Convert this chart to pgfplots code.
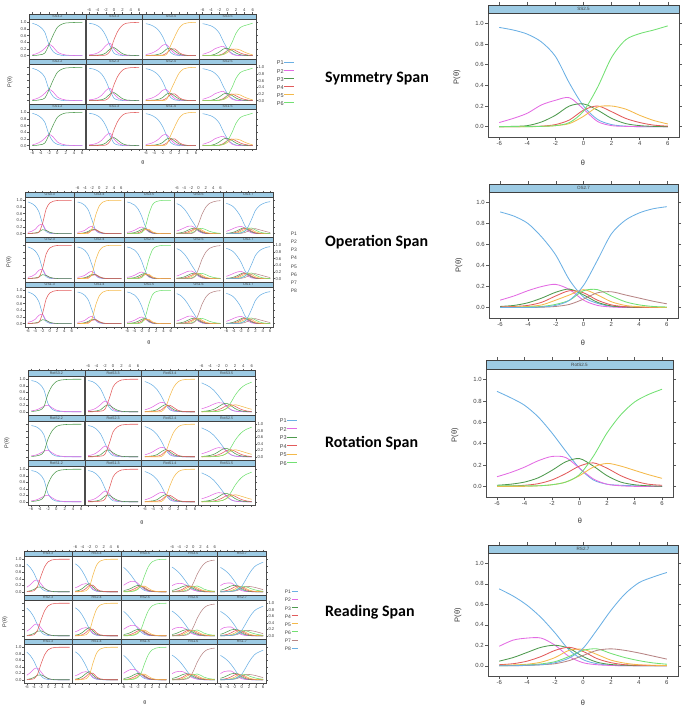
\documentclass[border=0pt]{standalone}
\usepackage{pgfplots}
\pgfplotsset{compat=1.18}
\usepackage{pgfplotstable}
\usepackage{fontspec}
\setmainfont{Liberation Sans}
\newfontfamily\titlefont{Carlito}

\definecolor{c1}{HTML}{6BB0E4}
\definecolor{c2}{HTML}{E36BE3}
\definecolor{c3}{HTML}{4E9A4E}
\definecolor{c4}{HTML}{E25B5B}
\definecolor{c5}{HTML}{F4B94A}
\definecolor{c6}{HTML}{72E072}
\definecolor{c7}{HTML}{B78585}
\colorlet{c8}{c1}
\definecolor{stripc}{HTML}{9DCBE4}

% ---------------- data (theta = -6..6) ----------------
\pgfplotstableread{
t p1 p2 p3
-6 0.97 0.025 0.005
-5 0.93 0.06 0.01
-4 0.85 0.12 0.03
-3 0.70 0.22 0.08
-2 0.33 0.34 0.33
-1 0.12 0.26 0.62
0 0.04 0.11 0.85
1 0.01 0.05 0.94
2 0 0.02 0.98
3 0 0.01 0.99
4 0 0.005 0.995
5 0 0 1
6 0 0 1
}\ssA
\pgfplotstableread{
t p1 p2 p3 p4
-6 0.97 0.025 0.005 0
-5 0.95 0.04 0.01 0
-4 0.90 0.08 0.015 0.005
-3 0.80 0.16 0.03 0.01
-2 0.60 0.30 0.08 0.02
-1 0.30 0.37 0.20 0.13
0 0.07 0.20 0.24 0.49
1 0.02 0.07 0.15 0.76
2 0.005 0.02 0.06 0.915
3 0 0.005 0.02 0.975
4 0 0 0.01 0.99
5 0 0 0.005 0.995
6 0 0 0 1
}\ssB
\pgfplotstableread{
t p1 p2 p3 p4 p5
-6 0.96 0.035 0.005 0 0
-5 0.93 0.06 0.01 0 0
-4 0.87 0.11 0.015 0.005 0
-3 0.77 0.19 0.04 0.01 0
-2 0.58 0.31 0.09 0.015 0.005
-1 0.30 0.33 0.20 0.08 0.04
0 0.09 0.18 0.22 0.19 0.32
1 0.02 0.06 0.13 0.20 0.59
2 0.005 0.02 0.05 0.09 0.83
3 0 0.005 0.015 0.03 0.95
4 0 0 0.005 0.01 0.985
5 0 0 0 0.003 0.997
6 0 0 0 0 1
}\ssC
\pgfplotstableread{
t p1 p2 p3 p4 p5 p6
-6 0.96 0.04 0 0 0 0
-5 0.935 0.08 0.003 0 0 0
-4 0.895 0.13 0.01 0.002 0 0
-3 0.82 0.21 0.045 0.005 0.002 0.003
-2 0.68 0.255 0.11 0.02 0.01 0.01
-1 0.42 0.28 0.20 0.065 0.03 0.04
0 0.20 0.17 0.22 0.16 0.10 0.15
1 0.07 0.05 0.16 0.20 0.19 0.38
2 0.02 0.01 0.08 0.145 0.20 0.67
3 0.005 0.003 0.03 0.08 0.17 0.84
4 0 0 0.01 0.04 0.11 0.90
5 0 0 0.003 0.015 0.06 0.935
6 0 0 0 0.005 0.026 0.975
}\ssD
\pgfplotstableread{
t p1 p2 p3 p4
-6 0.95 0.04 0.005 0.005
-5 0.91 0.07 0.01 0.01
-4 0.83 0.13 0.02 0.02
-3 0.66 0.25 0.05 0.04
-2 0.30 0.28 0.12 0.30
-1 0.06 0.10 0.10 0.74
0 0.01 0.03 0.04 0.92
1 0 0.01 0.015 0.975
2 0 0 0.005 0.995
3 0 0 0 1
4 0 0 0 1
5 0 0 0 1
6 0 0 0 1
}\osA
\pgfplotstableread{
t p1 p2 p3 p4 p5
-6 0.95 0.04 0.005 0.005 0
-5 0.92 0.06 0.01 0.005 0.005
-4 0.85 0.10 0.03 0.015 0.005
-3 0.70 0.18 0.07 0.04 0.01
-2 0.40 0.22 0.13 0.10 0.15
-1 0.10 0.10 0.12 0.12 0.56
0 0.02 0.03 0.05 0.06 0.84
1 0.005 0.01 0.015 0.02 0.95
2 0 0 0.005 0.005 0.99
3 0 0 0 0 1
4 0 0 0 0 1
5 0 0 0 0 1
6 0 0 0 0 1
}\osB
\pgfplotstableread{
t p1 p2 p3 p4 p5 p6
-6 0.95 0.04 0.01 0 0 0
-5 0.92 0.06 0.015 0.005 0 0
-4 0.86 0.10 0.03 0.01 0 0
-3 0.74 0.16 0.07 0.025 0.005 0
-2 0.52 0.20 0.13 0.08 0.04 0.03
-1 0.22 0.14 0.15 0.15 0.13 0.21
0 0.05 0.05 0.07 0.10 0.13 0.60
1 0.01 0.015 0.02 0.03 0.05 0.875
2 0 0.005 0.005 0.01 0.015 0.965
3 0 0 0 0.005 0.005 0.99
4 0 0 0 0 0 1
5 0 0 0 0 0 1
6 0 0 0 0 0 1
}\osC
\pgfplotstableread{
t p1 p2 p3 p4 p5 p6 p7
-6 0.90 0.08 0.015 0.005 0 0 0
-5 0.85 0.12 0.025 0.005 0 0 0
-4 0.75 0.17 0.05 0.02 0.005 0 0
-3 0.60 0.22 0.10 0.05 0.02 0.005 0
-2 0.42 0.23 0.15 0.10 0.06 0.02 0.005
-1 0.25 0.17 0.17 0.15 0.13 0.07 0.06
0 0.08 0.07 0.10 0.13 0.16 0.15 0.30
1 0.02 0.02 0.04 0.06 0.10 0.16 0.60
2 0.005 0.005 0.01 0.02 0.04 0.12 0.80
3 0 0 0.003 0.005 0.015 0.07 0.91
4 0 0 0 0 0.005 0.04 0.955
5 0 0 0 0 0 0.02 0.98
6 0 0 0 0 0 0.01 0.99
}\osD
\pgfplotstableread{
t p1 p2 p3 p4 p5 p6 p7 p8
-6 0.91 0.07 0.01 0.005 0 0 0 0
-5 0.87 0.11 0.02 0.01 0.005 0 0 0
-4 0.80 0.16 0.045 0.02 0.01 0.005 0 0
-3 0.67 0.20 0.09 0.05 0.025 0.01 0.003 0.005
-2 0.50 0.22 0.145 0.11 0.07 0.03 0.01 0.02
-1 0.26 0.17 0.175 0.16 0.12 0.07 0.03 0.07
0 0.10 0.07 0.12 0.14 0.17 0.16 0.08 0.21
1 0.04 0.02 0.05 0.07 0.12 0.17 0.14 0.45
2 0.01 0.005 0.015 0.025 0.055 0.11 0.15 0.70
3 0.005 0 0.005 0.008 0.02 0.055 0.12 0.83
4 0 0 0 0.003 0.008 0.025 0.09 0.90
5 0 0 0 0 0.003 0.01 0.06 0.94
6 0 0 0 0 0 0.005 0.035 0.96
}\osE
\pgfplotstableread{
t p1 p2 p3
-6 0.96 0.03 0.01
-5 0.93 0.05 0.02
-4 0.85 0.10 0.05
-3 0.68 0.17 0.15
-2 0.25 0.20 0.55
-1 0.08 0.12 0.80
0 0.02 0.05 0.93
1 0.005 0.02 0.975
2 0 0.008 0.99
3 0 0.003 0.997
4 0 0 1
5 0 0 1
6 0 0 1
}\rtA
\pgfplotstableread{
t p1 p2 p3 p4
-6 0.96 0.035 0.005 0
-5 0.93 0.06 0.01 0
-4 0.85 0.12 0.025 0.005
-3 0.70 0.22 0.06 0.02
-2 0.43 0.33 0.17 0.07
-1 0.15 0.26 0.21 0.38
0 0.03 0.08 0.12 0.77
1 0.01 0.025 0.05 0.915
2 0 0.008 0.015 0.977
3 0 0.003 0.005 0.992
4 0 0 0 1
5 0 0 0 1
6 0 0 0 1
}\rtB
\pgfplotstableread{
t p1 p2 p3 p4 p5
-6 0.93 0.06 0.01 0 0
-5 0.88 0.10 0.015 0.005 0
-4 0.80 0.16 0.03 0.01 0
-3 0.67 0.24 0.07 0.02 0
-2 0.47 0.29 0.16 0.06 0.01
-1 0.22 0.25 0.22 0.17 0.14
0 0.06 0.10 0.15 0.20 0.49
1 0.015 0.03 0.06 0.12 0.775
2 0.005 0.01 0.02 0.04 0.925
3 0 0 0.005 0.015 0.98
4 0 0 0 0.005 0.995
5 0 0 0 0 1
6 0 0 0 0 1
}\rtC
\pgfplotstableread{
t p1 p2 p3 p4 p5 p6
-6 0.89 0.09 0.01 0 0 0.005
-5 0.83 0.13 0.02 0.003 0 0.005
-4 0.76 0.18 0.04 0.01 0 0.005
-3 0.65 0.24 0.08 0.025 0.005 0.005
-2 0.50 0.28 0.15 0.06 0.015 0.015
-1 0.33 0.27 0.23 0.12 0.04 0.04
0 0.17 0.17 0.26 0.19 0.10 0.11
1 0.06 0.07 0.19 0.22 0.18 0.28
2 0.02 0.02 0.10 0.17 0.215 0.50
3 0.01 0.005 0.04 0.10 0.19 0.67
4 0.005 0 0.015 0.05 0.15 0.79
5 0 0 0.005 0.02 0.11 0.86
6 0 0 0 0.01 0.075 0.91
}\rtD
\pgfplotstableread{
t p1 p2 p3 p4
-6 0.85 0.14 0.01 0
-5 0.74 0.22 0.03 0.01
-4 0.57 0.33 0.07 0.03
-3 0.33 0.36 0.14 0.17
-2 0.12 0.24 0.15 0.49
-1 0.03 0.10 0.10 0.77
0 0.008 0.03 0.04 0.922
1 0.002 0.008 0.012 0.978
2 0 0.002 0.004 0.994
3 0 0 0 1
4 0 0 0 1
5 0 0 0 1
6 0 0 0 1
}\rsA
\pgfplotstableread{
t p1 p2 p3 p4 p5
-6 0.86 0.12 0.02 0 0
-5 0.78 0.17 0.04 0.01 0
-4 0.63 0.23 0.10 0.03 0.01
-3 0.43 0.25 0.19 0.10 0.03
-2 0.20 0.20 0.25 0.20 0.15
-1 0.06 0.08 0.14 0.20 0.52
0 0.015 0.025 0.05 0.09 0.82
1 0.004 0.007 0.015 0.03 0.944
2 0 0.002 0.005 0.01 0.983
3 0 0 0 0.003 0.997
4 0 0 0 0 1
5 0 0 0 0 1
6 0 0 0 0 1
}\rsB
\pgfplotstableread{
t p1 p2 p3 p4 p5 p6
-6 0.75 0.20 0.04 0.008 0.002 0
-5 0.65 0.27 0.06 0.015 0.005 0
-4 0.52 0.32 0.10 0.04 0.015 0.005
-3 0.37 0.32 0.16 0.09 0.04 0.02
-2 0.22 0.26 0.20 0.15 0.10 0.07
-1 0.10 0.15 0.17 0.18 0.17 0.23
0 0.035 0.06 0.09 0.12 0.17 0.53
1 0.01 0.02 0.035 0.05 0.10 0.785
2 0.003 0.006 0.012 0.018 0.04 0.92
3 0 0.002 0.004 0.006 0.015 0.973
4 0 0 0 0.002 0.005 0.993
5 0 0 0 0 0.002 0.998
6 0 0 0 0 0 1
}\rsC
\pgfplotstableread{
t p1 p2 p3 p4 p5 p6 p7
-6 0.76 0.19 0.04 0.008 0.002 0 0
-5 0.68 0.24 0.065 0.015 0.005 0.002 0
-4 0.58 0.26 0.11 0.035 0.012 0.005 0
-3 0.45 0.25 0.16 0.08 0.04 0.015 0.005
-2 0.30 0.20 0.19 0.15 0.10 0.045 0.02
-1 0.15 0.10 0.16 0.18 0.16 0.10 0.08
0 0.07 0.05 0.10 0.15 0.17 0.15 0.27
1 0.025 0.02 0.05 0.08 0.13 0.18 0.52
2 0.008 0.007 0.02 0.04 0.07 0.14 0.72
3 0 0 0.008 0.02 0.03 0.08 0.86
4 0 0 0.002 0.008 0.015 0.045 0.93
5 0 0 0 0.004 0.008 0.025 0.96
6 0 0 0 0.002 0.005 0.015 0.975
}\rsD
\pgfplotstableread{
t p1 p2 p3 p4 p5 p6 p7 p8
-6 0.75 0.19 0.045 0.01 0.005 0 0 0
-5 0.68 0.25 0.08 0.02 0.008 0.003 0 0
-4 0.59 0.27 0.13 0.045 0.015 0.008 0.003 0.005
-3 0.47 0.27 0.18 0.09 0.035 0.018 0.01 0.01
-2 0.32 0.20 0.20 0.15 0.08 0.04 0.02 0.03
-1 0.155 0.09 0.17 0.18 0.15 0.09 0.05 0.075
0 0.06 0.03 0.09 0.14 0.16 0.15 0.10 0.17
1 0.02 0.01 0.035 0.07 0.11 0.165 0.15 0.35
2 0.005 0.003 0.012 0.03 0.055 0.12 0.165 0.54
3 0 0 0.005 0.01 0.025 0.08 0.15 0.70
4 0 0 0 0.005 0.01 0.05 0.125 0.81
5 0 0 0 0.002 0.005 0.028 0.095 0.865
6 0 0 0 0 0.002 0.015 0.065 0.91
}\rsE

% ---------------- styles ----------------
\pgfplotsset{
 lat/.style={scale only axis, anchor=north west, width=\pw, height=\ph,
  xmin=-6.8, xmax=6.8, ymin=-0.1, ymax=\ymx,
  xtick={-6,-4,-2,0,2,4,6}, ytick={0,0.2,0.4,0.6,0.8,1},
  tick align=outside, major tick length=1.5bp,
  every tick/.style={black!65, line width=0.4bp},
  axis line style={black!70, line width=0.5bp},
  tick label style={font=\fontsize{4.2}{4.2}\selectfont, text=black!75, inner sep=0.8bp},
  /pgf/number format/assume math mode=true,
  yticklabel style={/pgf/number format/.cd, fixed, fixed zerofill, precision=1},
  every axis plot/.append style={smooth, no markers, line width=0.55bp},
 },
 big/.style={major tick length=3bp, xtick pos=both, xticklabel pos=left,
  ytick pos=both, yticklabel pos=left,
  tick label style={font=\fontsize{6}{6}\selectfont, inner sep=1.2bp},
  every axis plot/.append style={line width=0.85bp}},
 xt/.style={xtick pos=right, xticklabels={}},
 xT/.style={xtick pos=right, xticklabel pos=right},
 xb/.style={xtick pos=left, xticklabels={}},
 xB/.style={xtick pos=left, xticklabel pos=left},
 xn/.style={xmajorticks=false},
 yl/.style={ytick pos=left, yticklabels={}},
 yL/.style={ytick pos=left, yticklabel pos=left},
 yr/.style={ytick pos=right, yticklabels={}},
 yR/.style={ytick pos=right, yticklabel pos=right},
 yn/.style={ymajorticks=false},
 leg/.style={legend plot pos=right, legend cell align=left,
  legend style={draw=none, fill=none, anchor=north west,
   font=\fontsize{5.5}{5.5}\selectfont, text=black!75, inner sep=0pt,
   row sep=2.2bp, column sep=0pt, nodes={inner sep=0.3bp}},
  legend image code/.code={\draw[##1, line width=0.6bp] (6bp,1.9bp) -- (16bp,1.9bp);}},
}
\tikzset{
 stripst/.style={draw=black!75, fill=stripc, line width=0.5bp},
 striptx/.style={font=\stripfont, text=black!75, inner sep=0pt},
 lab/.style={font=\fontsize{5.5}{5.5}\selectfont, text=black!80, inner sep=0pt},
 blab/.style={font=\fontsize{7.5}{7.5}\selectfont, text=black!80, inner sep=0pt},
 ttl/.style={anchor=west, inner sep=0pt, font=\titlefont\bfseries\fontsize{16}{16}\selectfont},
}
\newcommand{\stripfont}{\fontsize{3.6}{3.6}\selectfont}
\newcommand{\pnl}[6]{%
 \begin{axis}[lat, at={(#1bp,-#2bp)}, #6]
  \pgfplotsinvokeforeach{1,...,#4}{\addplot[c##1] table[x=t,y=p##1]{#3};}
 \end{axis}
 \draw[stripst] (#1bp,-#2bp) rectangle ++(\pw,-\sh);
 \path (#1bp,-#2bp) ++(0.5*\pw,-0.5*\sh) node[striptx]{#5};
}

\begin{document}
\begin{tikzpicture}
\useasboundingbox (0,0) rectangle (685bp,-707bp);

% ================= Symmetry Span lattice =================
\renewcommand{\stripfont}{\fontsize{3.6}{3.6}\selectfont}
\def\pw{56.75bp}\def\ph{45bp}\def\sh{5bp}\def\ymx{1.25}
\pnl{29}{14}{\ssA}{3}{SS3.2}{xt,yL}
\pnl{85.75}{14}{\ssB}{4}{SS3.3}{xT,yn}
\pnl{142.5}{14}{\ssC}{5}{SS3.4}{xt,yn}
\pnl{199.25}{14}{\ssD}{6}{SS3.5}{xT,yr}
\pnl{29}{59}{\ssA}{3}{SS2.2}{xn,yl}
\pnl{85.75}{59}{\ssB}{4}{SS2.3}{xn,yn}
\pnl{142.5}{59}{\ssC}{5}{SS2.4}{xn,yn}
\pnl{199.25}{59}{\ssD}{6}{SS2.5}{xn,yR,leg,legend entries={P1,P2,P3,P4,P5,P6},legend style={at={(1.36,0.964)}}}
\pnl{29}{104}{\ssA}{3}{SS1.2}{xB,yL}
\pnl{85.75}{104}{\ssB}{4}{SS1.3}{xb,yn}
\pnl{142.5}{104}{\ssC}{5}{SS1.4}{xB,yn}
\pnl{199.25}{104}{\ssD}{6}{SS1.5}{xb,yr}
\node[lab, rotate=90] at (10bp,-82bp) {P(θ)};
\node[lab] at (143bp,-163bp) {θ};

% ================= Operation Span lattice =================
\def\pw{49.6bp}\def\ph{45bp}\def\sh{5bp}\def\ymx{1.25}
\pnl{25}{192}{\osA}{4}{OS3.3}{xt,yL}
\pnl{74.6}{192}{\osB}{5}{OS3.4}{xT,yn}
\pnl{124.2}{192}{\osC}{6}{OS3.5}{xt,yn}
\pnl{173.8}{192}{\osD}{7}{OS3.6}{xT,yn}
\pnl{223.4}{192}{\osE}{8}{OS3.7}{xt,yr}
\pnl{25}{237}{\osA}{4}{OS2.3}{xn,yl}
\pnl{74.6}{237}{\osB}{5}{OS2.4}{xn,yn}
\pnl{124.2}{237}{\osC}{6}{OS2.5}{xn,yn}
\pnl{173.8}{237}{\osD}{7}{OS2.6}{xn,yn}
\pnl{223.4}{237}{\osE}{8}{OS2.7}{xn,yR,leg,legend plot pos=none,legend entries={P1,P2,P3,P4,P5,P6,P7,P8},legend style={at={(1.35,1.12)},font=\fontsize{5}{5}\selectfont,row sep=2.6bp}}
\pnl{25}{282}{\osA}{4}{OS1.3}{xB,yL}
\pnl{74.6}{282}{\osB}{5}{OS1.4}{xb,yn}
\pnl{124.2}{282}{\osC}{6}{OS1.5}{xB,yn}
\pnl{173.8}{282}{\osD}{7}{OS1.6}{xb,yn}
\pnl{223.4}{282}{\osE}{8}{OS1.7}{xB,yr}
\node[lab, rotate=90] at (9bp,-262bp) {P(θ)};
\node[lab] at (149bp,-343bp) {θ};

% ================= Rotation Span lattice =================
\def\pw{56.75bp}\def\ph{45bp}\def\sh{6bp}\def\ymx{1.285}
\pnl{28}{370}{\rtA}{3}{RotS3.2}{xt,yL}
\pnl{84.75}{370}{\rtB}{4}{RotS3.3}{xT,yn}
\pnl{141.5}{370}{\rtC}{5}{RotS3.4}{xt,yn}
\pnl{198.25}{370}{\rtD}{6}{RotS3.5}{xT,yr}
\pnl{28}{415}{\rtA}{3}{RotS2.2}{xn,yl}
\pnl{84.75}{415}{\rtB}{4}{RotS2.3}{xn,yn}
\pnl{141.5}{415}{\rtC}{5}{RotS2.4}{xn,yn}
\pnl{198.25}{415}{\rtD}{6}{RotS2.5}{xn,yR,leg,legend entries={P1,P2,P3,P4,P5,P6},legend style={at={(1.43,0.92)},row sep=2.6bp}}
\pnl{28}{460}{\rtA}{3}{RotS1.2}{xB,yL}
\pnl{84.75}{460}{\rtB}{4}{RotS1.3}{xb,yn}
\pnl{141.5}{460}{\rtC}{5}{RotS1.4}{xB,yn}
\pnl{198.25}{460}{\rtD}{6}{RotS1.5}{xb,yr}
\node[lab, rotate=90] at (7bp,-443bp) {P(θ)};
\node[lab] at (142bp,-523bp) {θ};

% ================= Reading Span lattice =================
\def\pw{48.4bp}\def\ph{44bp}\def\sh{5bp}\def\ymx{1.254}
\pnl{24}{551}{\rsA}{4}{RS3.3}{xt,yL}
\pnl{72.4}{551}{\rsB}{5}{RS3.4}{xT,yn}
\pnl{120.8}{551}{\rsC}{6}{RS3.5}{xt,yn}
\pnl{169.2}{551}{\rsD}{7}{RS3.6}{xT,yn}
\pnl{217.6}{551}{\rsE}{8}{RS3.7}{xt,yr}
\pnl{24}{595}{\rsA}{4}{RS2.3}{xn,yl}
\pnl{72.4}{595}{\rsB}{5}{RS2.4}{xn,yn}
\pnl{120.8}{595}{\rsC}{6}{RS2.5}{xn,yn}
\pnl{169.2}{595}{\rsD}{7}{RS2.6}{xn,yn}
\pnl{217.6}{595}{\rsE}{8}{RS2.7}{xn,yR,leg,legend entries={P1,P2,P3,P4,P5,P6,P7,P8},legend style={at={(1.38,1.12)},font=\fontsize{5}{5}\selectfont,row sep=2.6bp},legend image code/.code={\draw[#1, line width=0.6bp] (5bp,1.7bp) -- (11bp,1.7bp);}}
\pnl{24}{639}{\rsA}{4}{RS1.3}{xB,yL}
\pnl{72.4}{639}{\rsB}{5}{RS1.4}{xb,yn}
\pnl{120.8}{639}{\rsC}{6}{RS1.5}{xB,yn}
\pnl{169.2}{639}{\rsD}{7}{RS1.6}{xb,yn}
\pnl{217.6}{639}{\rsE}{8}{RS1.7}{xB,yr}
\node[lab, rotate=90] at (5bp,-622bp) {P(θ)};
\node[lab] at (145bp,-703bp) {θ};

% ================= Titles =================
\node[ttl] at (325bp,-79bp) {Symmetry Span};
\node[ttl] at (325bp,-242.5bp) {Operation Span};
\node[ttl] at (325bp,-443bp) {Rotation Span};
\node[ttl] at (325bp,-612.5bp) {Reading Span};

% ================= Big panels =================
\renewcommand{\stripfont}{\fontsize{4.6}{4.6}\selectfont}
\def\pw{191bp}\def\ph{132bp}\def\sh{8bp}\def\ymx{1.177}
\pnl{488}{5}{\ssD}{6}{SS2.5}{big}
\node[blab, rotate=90] at (457bp,-77bp) {P(θ)};
\node[blab] at (583bp,-163bp) {θ};

\def\pw{189bp}\def\ph{134bp}\def\sh{8bp}\def\ymx{1.176}
\pnl{489}{184}{\osE}{8}{OS2.7}{big}
\node[blab, rotate=90] at (459bp,-265bp) {P(θ)};
\node[blab] at (583bp,-343bp) {θ};

\def\pw{187bp}\def\ph{137bp}\def\sh{9bp}\def\ymx{1.184}
\pnl{486}{360}{\rtD}{6}{RotS2.5}{big}
\node[blab, rotate=90] at (455bp,-435bp) {P(θ)};
\node[blab] at (580bp,-521bp) {θ};

\def\pw{190bp}\def\ph{131bp}\def\sh{8bp}\def\ymx{1.178}
\pnl{488}{545}{\rsE}{8}{RS2.7}{big}
\node[blab, rotate=90] at (458bp,-615bp) {P(θ)};
\node[blab] at (583bp,-703bp) {θ};

\end{tikzpicture}
\end{document}
